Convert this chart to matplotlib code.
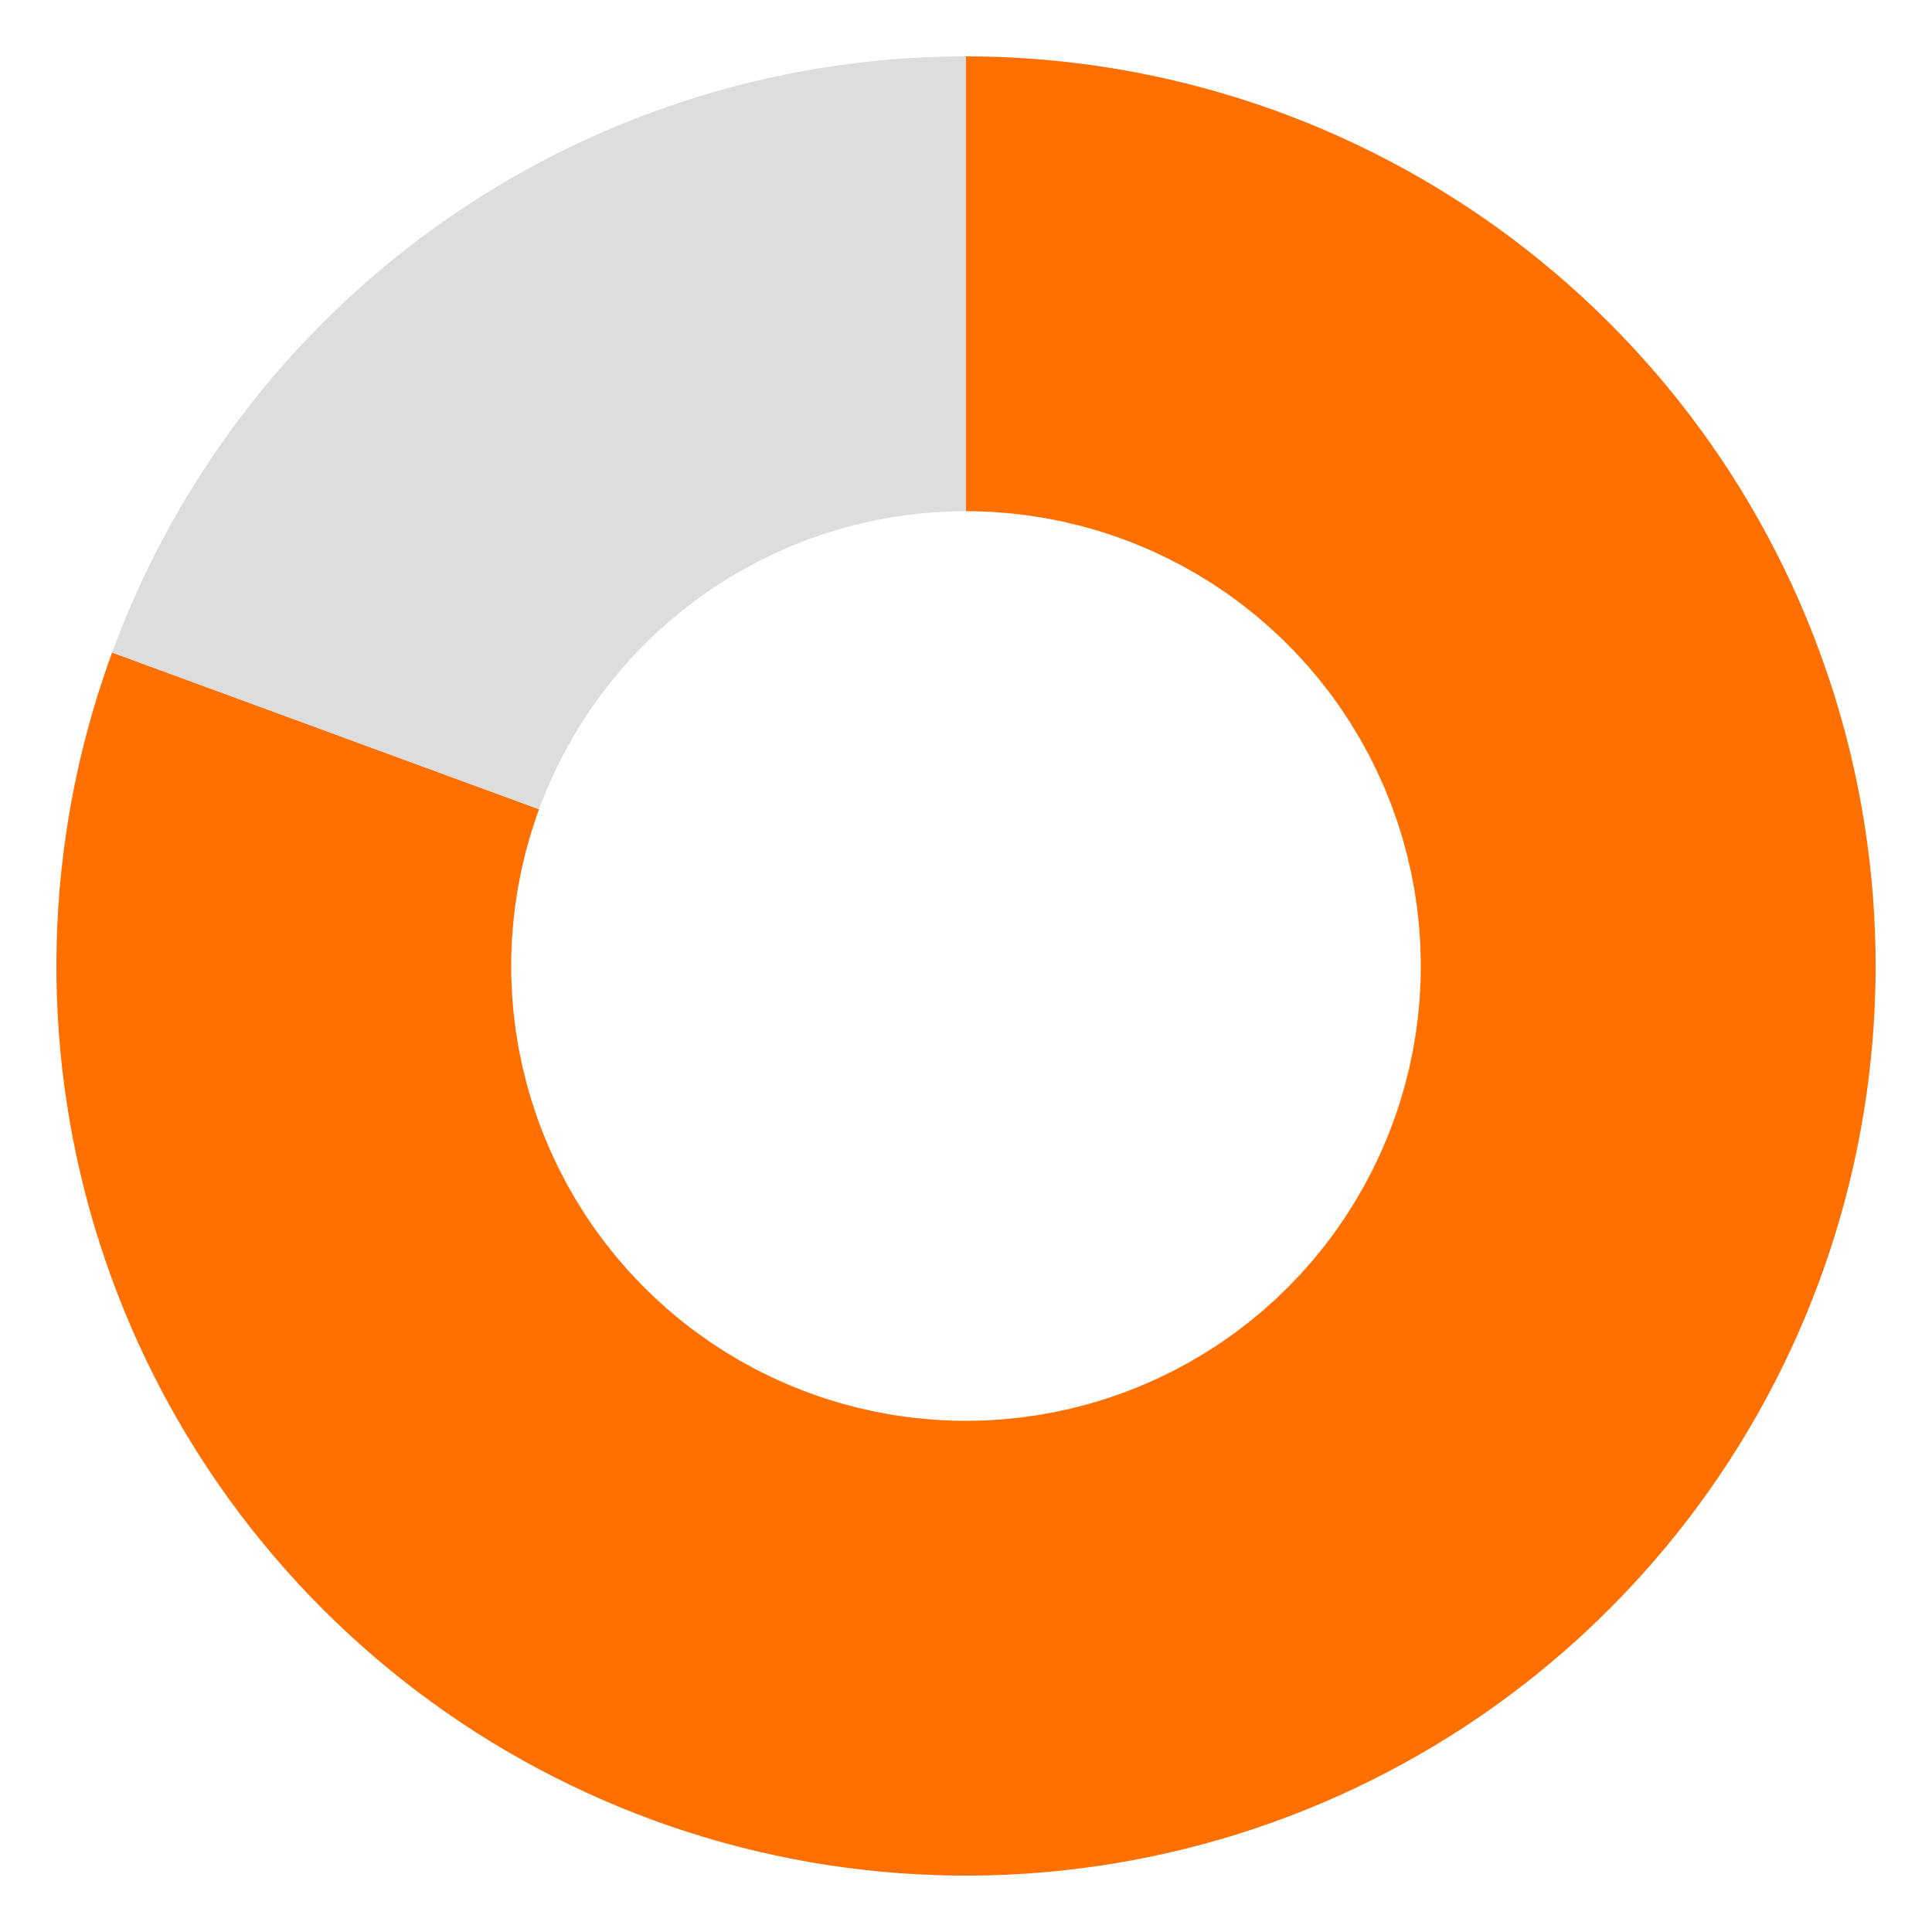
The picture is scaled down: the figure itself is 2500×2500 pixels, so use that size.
import matplotlib
matplotlib.use("Agg")
import matplotlib.pyplot as plt

# donut values (share of whole, %)
labels = ["filled", "rest"]
values = [80.6, 19.4]
colors = ["#FF7000", "#DDDDDD"]

fig = plt.figure(figsize=(10, 10), dpi=250)
ax = fig.add_axes([0, 0, 1, 1])
ax.pie(values, colors=colors, startangle=90, counterclock=False,
       radius=1.0, wedgeprops=dict(width=0.5, linewidth=0))
ax.set_xlim(-1.062, 1.062)
ax.set_ylim(-1.062, 1.062)
ax.set_aspect("equal")
ax.axis("off")
fig.savefig("out.png", dpi=250, facecolor="white")
